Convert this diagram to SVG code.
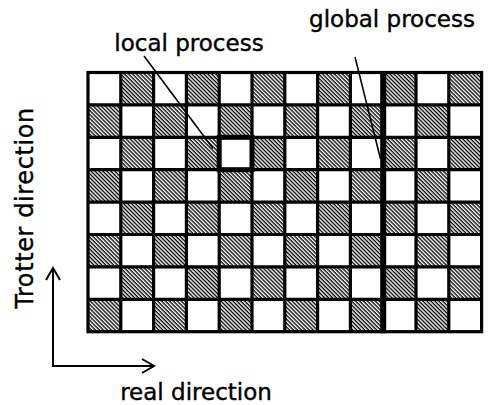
<svg xmlns="http://www.w3.org/2000/svg" width="491" height="405" viewBox="0 0 491 405">
<style>
text{font-family:"DejaVu Sans","Liberation Sans",sans-serif;font-size:23px;fill:#000;stroke:#000;stroke-width:0.4}
.h{fill:url(#hatch)}
.g{fill:none;stroke:#000;stroke-width:3.2}
.ld{fill:none;stroke:#000;stroke-width:1.6}
.ar{fill:none;stroke:#000;stroke-width:2}
</style>
<defs>
<pattern id="hatch" patternUnits="userSpaceOnUse" width="2.8" height="2.8" patternTransform="rotate(45)">
<rect width="2.8" height="2.8" fill="#fff"/>
<rect width="2.8" height="1.35" fill="#000"/>
</pattern>
<marker id="ah" markerUnits="userSpaceOnUse" markerWidth="20" markerHeight="20" refX="0" refY="0" viewBox="-14 -10 16 20" orient="auto">
<path d="M-12,-7 L0,0 L-12,7" fill="none" stroke="#000" stroke-width="2"/>
</marker>
</defs>
<rect width="491" height="405" fill="#fff"/>
<g id="grid">
<g id="cells">
<rect class="h" x="120.8" y="72.5" width="32.8" height="32.4"/><rect class="h" x="186.4" y="72.5" width="32.8" height="32.4"/><rect class="h" x="252" y="72.5" width="32.8" height="32.4"/><rect class="h" x="317.6" y="72.5" width="32.8" height="32.4"/><rect class="h" x="383.2" y="72.5" width="32.8" height="32.4"/><rect class="h" x="448.8" y="72.5" width="32.8" height="32.4"/>
<rect class="h" x="88" y="104.9" width="32.8" height="32.4"/><rect class="h" x="153.6" y="104.9" width="32.8" height="32.4"/><rect class="h" x="219.2" y="104.9" width="32.8" height="32.4"/><rect class="h" x="284.8" y="104.9" width="32.8" height="32.4"/><rect class="h" x="350.4" y="104.9" width="32.8" height="32.4"/><rect class="h" x="416" y="104.9" width="32.8" height="32.4"/>
<rect class="h" x="120.8" y="137.3" width="32.8" height="32.4"/><rect class="h" x="186.4" y="137.3" width="32.8" height="32.4"/><rect class="h" x="252" y="137.3" width="32.8" height="32.4"/><rect class="h" x="317.6" y="137.3" width="32.8" height="32.4"/><rect class="h" x="383.2" y="137.3" width="32.8" height="32.4"/><rect class="h" x="448.8" y="137.3" width="32.8" height="32.4"/>
<rect class="h" x="88" y="169.7" width="32.8" height="32.4"/><rect class="h" x="153.6" y="169.7" width="32.8" height="32.4"/><rect class="h" x="219.2" y="169.7" width="32.8" height="32.4"/><rect class="h" x="284.8" y="169.7" width="32.8" height="32.4"/><rect class="h" x="350.4" y="169.7" width="32.8" height="32.4"/><rect class="h" x="416" y="169.7" width="32.8" height="32.4"/>
<rect class="h" x="120.8" y="202.1" width="32.8" height="32.4"/><rect class="h" x="186.4" y="202.1" width="32.8" height="32.4"/><rect class="h" x="252" y="202.1" width="32.8" height="32.4"/><rect class="h" x="317.6" y="202.1" width="32.8" height="32.4"/><rect class="h" x="383.2" y="202.1" width="32.8" height="32.4"/><rect class="h" x="448.8" y="202.1" width="32.8" height="32.4"/>
<rect class="h" x="88" y="234.5" width="32.8" height="32.4"/><rect class="h" x="153.6" y="234.5" width="32.8" height="32.4"/><rect class="h" x="219.2" y="234.5" width="32.8" height="32.4"/><rect class="h" x="284.8" y="234.5" width="32.8" height="32.4"/><rect class="h" x="350.4" y="234.5" width="32.8" height="32.4"/><rect class="h" x="416" y="234.5" width="32.8" height="32.4"/>
<rect class="h" x="120.8" y="266.9" width="32.8" height="32.4"/><rect class="h" x="186.4" y="266.9" width="32.8" height="32.4"/><rect class="h" x="252" y="266.9" width="32.8" height="32.4"/><rect class="h" x="317.6" y="266.9" width="32.8" height="32.4"/><rect class="h" x="383.2" y="266.9" width="32.8" height="32.4"/><rect class="h" x="448.8" y="266.9" width="32.8" height="32.4"/>
<rect class="h" x="88" y="299.3" width="32.8" height="32.4"/><rect class="h" x="153.6" y="299.3" width="32.8" height="32.4"/><rect class="h" x="219.2" y="299.3" width="32.8" height="32.4"/><rect class="h" x="284.8" y="299.3" width="32.8" height="32.4"/><rect class="h" x="350.4" y="299.3" width="32.8" height="32.4"/><rect class="h" x="416" y="299.3" width="32.8" height="32.4"/>
</g>
<path class="g" d="M120.8 72.5V331.7M153.6 72.5V331.7M186.4 72.5V331.7M219.2 72.5V331.7M252 72.5V331.7M284.8 72.5V331.7M317.6 72.5V331.7M350.4 72.5V331.7M416 72.5V331.7M448.8 72.5V331.7M88 104.9H481.6M88 137.3H481.6M88 169.7H481.6M88 202.1H481.6M88 234.5H481.6M88 266.9H481.6M88 299.3H481.6"/>
<rect class="g" x="88" y="72.5" width="393.6" height="259.2"/>
</g>
<g id="global-process">
<rect x="380.2" y="71" width="6" height="262.2" fill="#000"/>
</g>
<g id="local-process">
<rect x="219.2" y="137.3" width="32.8" height="32.4" fill="none" stroke="#000" stroke-width="5"/>
</g>
<g id="connectors">
<path class="ld" d="M144,56 L213,148.5"/>
<path class="ld" d="M355,57 L380.5,159"/>
<path class="ar" d="M53,366 V268" marker-end="url(#ah)"/>
<path class="ar" d="M52,366 H154" marker-end="url(#ah)"/>
</g>
<g id="labels">
<text x="189" y="51" text-anchor="middle">local process</text>
<text x="392" y="27" text-anchor="middle">global process</text>
<text x="33" y="208" text-anchor="middle" transform="rotate(-90 33 208)" style="font-size:24px;letter-spacing:0.6px">Trotter direction</text>
<text x="196" y="400" text-anchor="middle">real direction</text>
</g>
</svg>
